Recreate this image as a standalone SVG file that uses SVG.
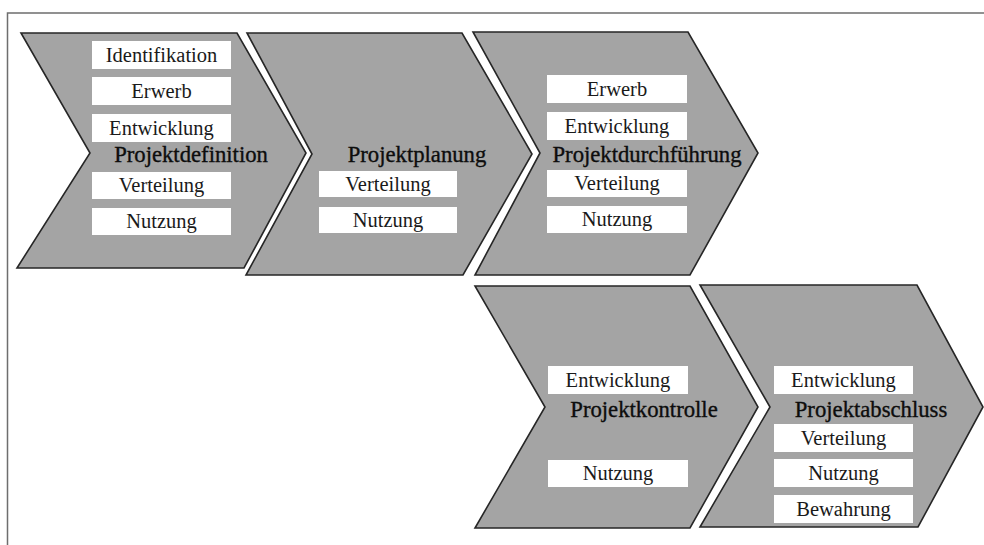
<svg xmlns="http://www.w3.org/2000/svg" width="984" height="545" viewBox="0 0 984 545">
  <style>
    .phase { fill: #a4a4a4; stroke: #262626; stroke-width: 1.6; stroke-linejoin: miter; }
    .box { fill: #ffffff; }
    .item { font-family: "Liberation Serif", "Times New Roman", serif; font-size: 20.5px; fill: #1a1a1a; text-anchor: middle; }
    .title { font-family: "Liberation Serif", "Times New Roman", serif; font-size: 22.7px; fill: #0d0d0d; text-anchor: middle; stroke: #0d0d0d; stroke-width: 0.35; }
    .frame { fill: none; stroke: #6e6e6e; stroke-width: 1.5; }
  </style>

  <!-- outer frame (top and left edges) -->
  <path class="frame" d="M984,13 H7.5 V545"/>

  <!-- Phase 1 -->
  <g id="projektdefinition">
    <polygon class="phase" points="21,33 237,33 306,153 244,268 17,268 90,153"/>
    <rect class="box" x="92" y="41" width="139" height="28"/>
    <text class="item" x="161.5" y="62">Identifikation</text>
    <rect class="box" x="92" y="77" width="139" height="28"/>
    <text class="item" x="161.5" y="98">Erwerb</text>
    <rect class="box" x="92" y="114" width="139" height="28"/>
    <text class="item" x="161.5" y="135">Entwicklung</text>
    <text class="title" x="191" y="162">Projektdefinition</text>
    <rect class="box" x="92" y="172" width="139" height="27"/>
    <text class="item" x="161.5" y="192">Verteilung</text>
    <rect class="box" x="92" y="208" width="139" height="27"/>
    <text class="item" x="161.5" y="228">Nutzung</text>
  </g>

  <!-- Phase 2 -->
  <g id="projektplanung">
    <polygon class="phase" points="247,33 462,33 532,154 463,275 246,275 312,154"/>
    <text class="title" x="417" y="162">Projektplanung</text>
    <rect class="box" x="319" y="171" width="138" height="26"/>
    <text class="item" x="388" y="191">Verteilung</text>
    <rect class="box" x="319" y="207" width="138" height="26"/>
    <text class="item" x="388" y="227">Nutzung</text>
  </g>

  <!-- Phase 3 -->
  <g id="projektdurchfuehrung">
    <polygon class="phase" points="473,32 688,32 758,153 690,275 475,275 540,153"/>
    <rect class="box" x="547" y="75" width="140" height="28"/>
    <text class="item" x="617" y="96">Erwerb</text>
    <rect class="box" x="547" y="112" width="140" height="28"/>
    <text class="item" x="617" y="133">Entwicklung</text>
    <text class="title" x="647" y="162">Projektdurchführung</text>
    <rect class="box" x="547" y="170" width="140" height="27"/>
    <text class="item" x="617" y="190">Verteilung</text>
    <rect class="box" x="547" y="206" width="140" height="27"/>
    <text class="item" x="617" y="226">Nutzung</text>
  </g>

  <!-- Phase 4 -->
  <g id="projektkontrolle">
    <polygon class="phase" points="475,286 690,286 758,407 690,528 475,528 545,407"/>
    <rect class="box" x="548" y="366" width="140" height="28"/>
    <text class="item" x="618" y="387">Entwicklung</text>
    <text class="title" x="644" y="417">Projektkontrolle</text>
    <rect class="box" x="548" y="460" width="140" height="27"/>
    <text class="item" x="618" y="480">Nutzung</text>
  </g>

  <!-- Phase 5 -->
  <g id="projektabschluss">
    <polygon class="phase" points="700,285 917,285 983,407 918,527 700,527 770,407"/>
    <rect class="box" x="774" y="366" width="139" height="28"/>
    <text class="item" x="843.5" y="387">Entwicklung</text>
    <text class="title" x="871" y="417">Projektabschluss</text>
    <rect class="box" x="774" y="424" width="139" height="28"/>
    <text class="item" x="843.5" y="445">Verteilung</text>
    <rect class="box" x="774" y="459" width="139" height="28"/>
    <text class="item" x="843.5" y="480">Nutzung</text>
    <rect class="box" x="774" y="495" width="139" height="28"/>
    <text class="item" x="843.5" y="516">Bewahrung</text>
  </g>
</svg>
